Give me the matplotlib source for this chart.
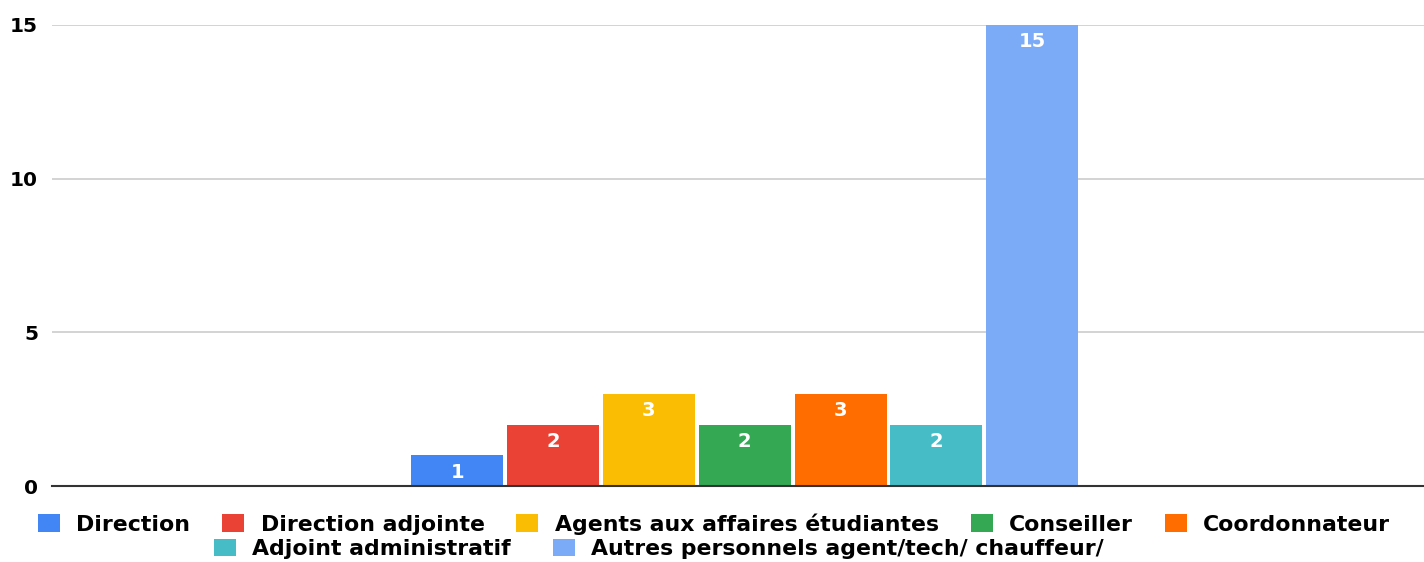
import matplotlib.pyplot as plt
import numpy as np

labels = ['Direction', 'Direction adjointe', 'Agents aux affaires étudiantes', 'Conseiller',
          'Coordonnateur', 'Adjoint administratif', 'Autres personnels agent/tech/ chauffeur/']
values = [1, 2, 3, 2, 3, 2, 15]
colors = ['#4285F4', '#EA4335', '#FBBC04', '#34A853', '#FF6D01', '#46BDC6', '#7BAAF7']
yticks = [0, 5, 10, 15]

plt.rcParams['font.family'] = 'DejaVu Sans'
plt.rcParams['font.weight'] = 'bold'

fig = plt.figure(figsize=(14.24, 5.62), dpi=100)
ax = fig.add_axes([52/1424, 1-486/562, 1-52/1424, (486-25)/562])

x = np.arange(len(values))
bars = ax.bar(x, values, width=0.96, color=colors, zorder=3)
for b, v in zip(bars, values):
    ax.text(b.get_x()+b.get_width()/2, v-0.55, str(v), ha='center', va='center',
            color='white', fontsize=14, fontweight='bold', zorder=4)

ax.set_xlim(-4.23, 10.09)
ax.set_ylim(0, 15)
ax.set_yticks(yticks)
ax.set_xticks([])
ax.yaxis.grid(True, color='#cccccc', linewidth=1.2, zorder=0)
ax.tick_params(axis='y', length=0, pad=10, labelsize=14.5)
for s in ['top', 'right', 'left']:
    ax.spines[s].set_visible(False)
ax.spines['bottom'].set_color('#333333')
ax.spines['bottom'].set_linewidth(1.5)
ax.spines['bottom'].set_zorder(5)

kw = dict(frameon=False, fontsize=15.8, handlelength=1.0, handleheight=0.85,
          handletextpad=0.75, borderpad=0, borderaxespad=0)
fig.legend(bars[:5], labels[:5], ncol=5, loc='center', columnspacing=1.45,
           bbox_to_anchor=(714/1424, 1-524/562), **kw)
fig.legend(bars[5:], labels[5:], ncol=2, loc='center', columnspacing=1.9,
           bbox_to_anchor=(659/1424, 1-549/562), **kw)

fig.savefig('out.png', dpi=100)
